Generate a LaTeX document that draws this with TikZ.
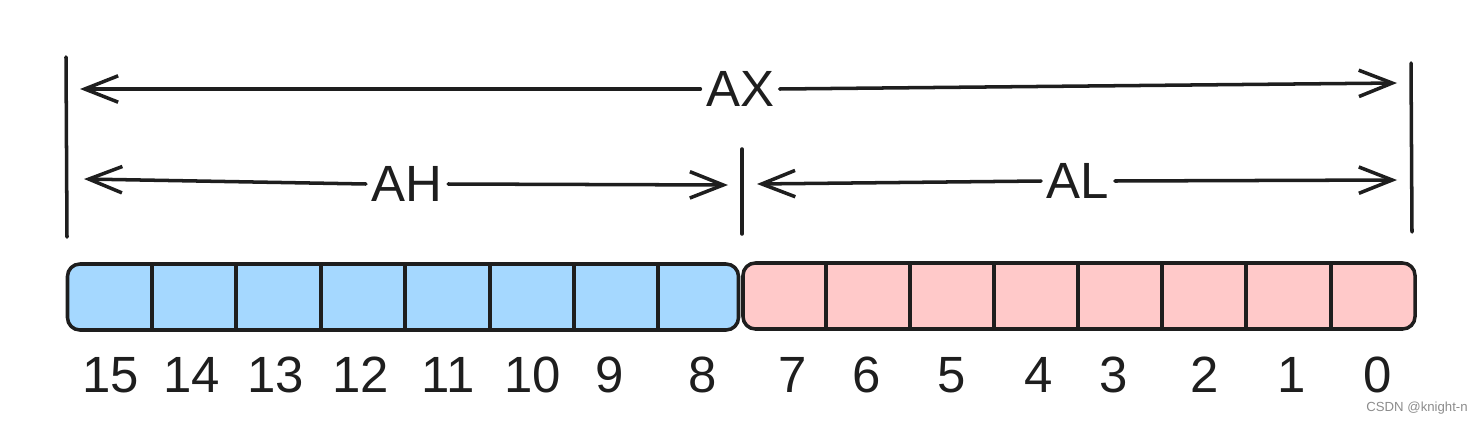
\documentclass[tikz,border=0pt]{standalone}
\usepackage{fontspec}
\setmainfont{Liberation Sans}
\usetikzlibrary{arrows.meta}
\definecolor{regblue}{HTML}{A5D8FF}
\definecolor{regred}{HTML}{FFC9C9}
\definecolor{ink}{HTML}{1E1E1E}
\def\px{0.02cm}
\tikzset{
  ink line/.style={draw=ink, line width=2pt, line cap=round, line join=round},
  dimarrow/.style={ink line, -{Straight Barb[length=19pt, width=15pt, line width=2pt]}},
  reg/.style={ink line, rounded corners=7pt, minimum height={66*\px}, inner sep=0pt},
  bitlabel/.style={font=\fontsize{29}{31}\selectfont, text=ink, inner sep=0pt, anchor=base},
  dimlabel/.style={font=\fontsize{29}{31}\selectfont, text=ink, inner sep=3pt},
}
\begin{document}
\begin{tikzpicture}[x=0.02cm, y=-0.02cm]
\useasboundingbox (0,0) rectangle (1482,423);
% register halves
\node[reg, fill=regblue, minimum width={671*\px}] (ah) at (403,297) {};
\node[reg, fill=regred, minimum width={672*\px}] (al) at (1079,296) {};
\foreach \x in {152,236,321,405,490,574,658} \draw[ink line] (\x,264) -- (\x,329);
\foreach \x in {826,910,994,1078,1162,1246,1331} \draw[ink line] (\x,263) -- (\x,328);
% bit numbers
\foreach \n/\x in {15/111,14/192,13/276,12/361,11/448,10/533,9/610,8/703,7/793,6/867,5/952,4/1039,3/1114,2/1205,1/1292,0/1378}
  \node[bitlabel] (b\n) at (\x,392) {\n};
% vertical boundary bars
\draw[ink line] (66,57) -- (67,237);
\draw[ink line] (742,149) -- (742,234);
\draw[ink line] (1411,63) -- (1412,232);
% dimension labels
\node[dimlabel] (axl) at (740,89) {AX};
\node[dimlabel] (ahl) at (407,184) {AH};
\node[dimlabel] (all) at (1078,181) {AL};
% arrow end points
\coordinate (axL) at (80,89);
\coordinate (axR) at (1397,83);
\coordinate (ahL) at (84,179);
\coordinate (ahR) at (728,185);
\coordinate (alL) at (757,184);
\coordinate (alR) at (1397,180);
\draw[dimarrow] (axl.west) -- (axL);
\draw[dimarrow] (axl.east) -- (axR);
\draw[dimarrow] (ahl.west) -- (ahL);
\draw[dimarrow] (ahl.east) -- (ahR);
\draw[dimarrow] (all.west) -- (alL);
\draw[dimarrow] (all.east) -- (alR);
% watermark
\node[font=\fontsize{7.5}{9}\selectfont, text=black!45, anchor=east, inner sep=0pt] (wm) at (1468,408) {CSDN @knight-n};
\end{tikzpicture}
\end{document}
